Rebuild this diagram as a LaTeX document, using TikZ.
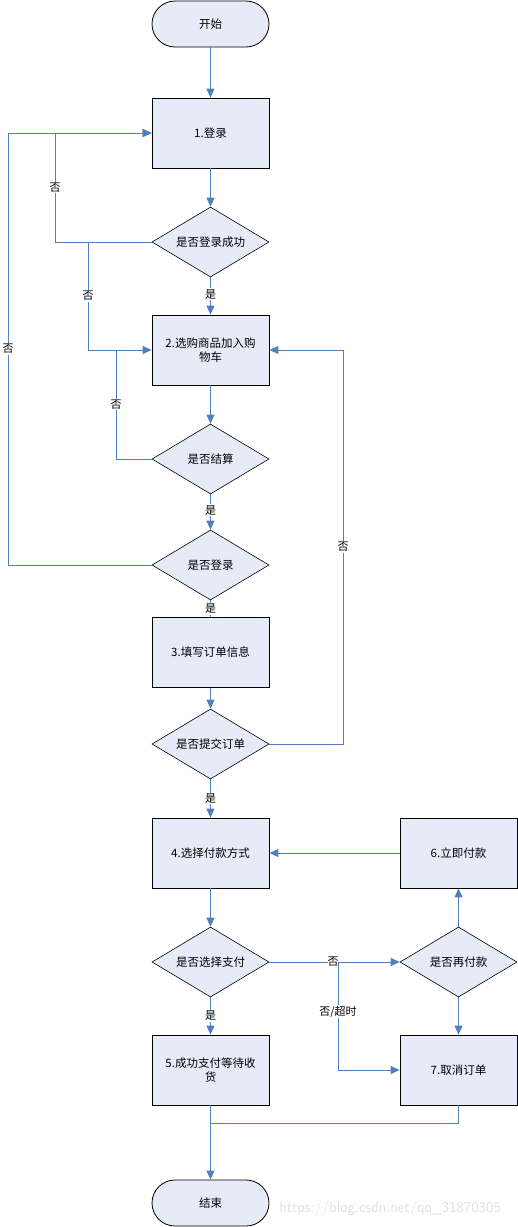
\documentclass[tikz,border=0pt]{standalone}
\usepackage{fontspec}
\newfontfamily\cjk{Noto Sans CJK SC}
\usetikzlibrary{shapes.geometric,arrows.meta}
\definecolor{fillc}{HTML}{E6ECF7}
\definecolor{linec}{HTML}{4F81BD}
\begin{document}
\begin{tikzpicture}[x=1pt,y=-1pt,
  font=\cjk\fontsize{11.5}{14}\selectfont,
  box/.style={draw=black,fill=fillc,line width=0.8pt,minimum width=117pt,minimum height=70pt,inner sep=2pt,text width=110pt,align=center},
  term/.style={draw=black,fill=fillc,line width=0.8pt,rectangle,rounded corners=23pt,minimum width=117pt,minimum height=46pt},
  dec/.style={draw=black,fill=fillc,line width=0.6pt,diamond,aspect=1.67,minimum width=117pt,minimum height=70pt,inner sep=0pt},
  conn/.style={draw=linec,line width=1pt},
  arr/.style={conn,-{Triangle[length=9pt,width=8pt]}},
  lab/.style={fill=white,inner sep=1pt,font=\cjk\fontsize{11}{13}\selectfont}
]
\useasboundingbox (0,0) rectangle (518,1227);
% nodes
\node[term] (start) at (210.5,24) {开始};
\node[box] (b1) at (210.5,133) {1.登录};
\node[dec] (d1) at (210.5,242) {是否登录成功};
\node[box] (b2) at (210.5,350) {2.选购商品加入购\\物车};
\node[dec] (d2) at (210.5,459) {是否结算};
\node[dec] (d3) at (210.5,565) {是否登录};
\node[box] (b3) at (210.5,652.5) {3.填写订单信息};
\node[dec] (d4) at (210.5,744) {是否提交订单};
\node[box] (b4) at (210.5,853) {4.选择付款方式};
\node[dec] (d5) at (210.5,962) {是否选择支付};
\node[box] (b5) at (210.5,1070) {5.成功支付等待收\\货};
\node[term] (end) at (210.5,1203) {结束};
\node[box] (b6) at (458.5,853) {6.立即付款};
\node[dec] (d6) at (458.5,962) {是否再付款};
\node[box] (b7) at (458.5,1070) {7.取消订单};
% coordinates
\coordinate (c1a) at (55,242);
\coordinate (c1b) at (55,133);
\coordinate (c2a) at (88,242);
\coordinate (c2b) at (88,350);
\coordinate (c3a) at (116,459);
\coordinate (c3b) at (116,350);
\coordinate (c4a) at (8,565);
\coordinate (c4b) at (8,133);
\coordinate (c5a) at (343,744);
\coordinate (c5b) at (343,350);
\coordinate (c6a) at (338,962);
\coordinate (c6b) at (338,1070);
\coordinate (c7a) at (458.5,1123);
\coordinate (c7b) at (210.5,1123);
% main flow
\draw[arr] (start) -- (b1);
\draw[arr] (b1) -- (d1);
\draw[arr] (d1) -- node[lab,pos=0.45]{是} (b2);
\draw[arr] (b2) -- (d2);
\draw[arr] (d2) -- node[lab,pos=0.45]{是} (d3);
\draw[arr] (d3) -- node[lab,pos=0.5]{是} (b3);
\draw[arr] (b3) -- (d4);
\draw[arr] (d4) -- node[lab,pos=0.5]{是} (b4);
\draw[arr] (b4) -- (d5);
\draw[arr] (d5) -- node[lab,pos=0.5]{是} (b5);
\draw[arr] (b5) -- (end);
% loops
\draw[arr] (d1.west) -- (c1a) -- node[lab,pos=0.5]{否} (c1b) -- (b1.west);
\draw[arr] (c2a) -- node[lab,pos=0.5]{否} (c2b) -- (b2.west);
\draw[conn] (d2.west) -- (c3a) -- node[lab,pos=0.5]{否} (c3b);
\draw[arr] (d3.west) -- (c4a) -- node[lab,pos=0.5]{否} (c4b) -- (b1.west);
\draw[arr] (d4.east) -- (c5a) -- node[lab,pos=0.5]{否} (c5b) -- (b2.east);
% right side
\draw[arr] (b6.west) -- (b4.east);
\draw[arr] (d5.east) -- node[lab,pos=0.49,inner sep=0pt]{否} (d6.west);
\draw[arr] (c6a) -- node[lab,pos=0.46]{否/超时} (c6b) -- (b7.west);
\draw[arr] (d6.north) -- (b6.south);
\draw[arr] (d6.south) -- (b7.north);
\draw[conn] (b7.south) -- (c7a) -- (c7b);
% watermark
\node[font=\sffamily\fontsize{15}{17}\selectfont,text=black!12] (wm) at (390,1209) {https://blog.csdn.net/qq\_31870305};
\end{tikzpicture}
\end{document}
